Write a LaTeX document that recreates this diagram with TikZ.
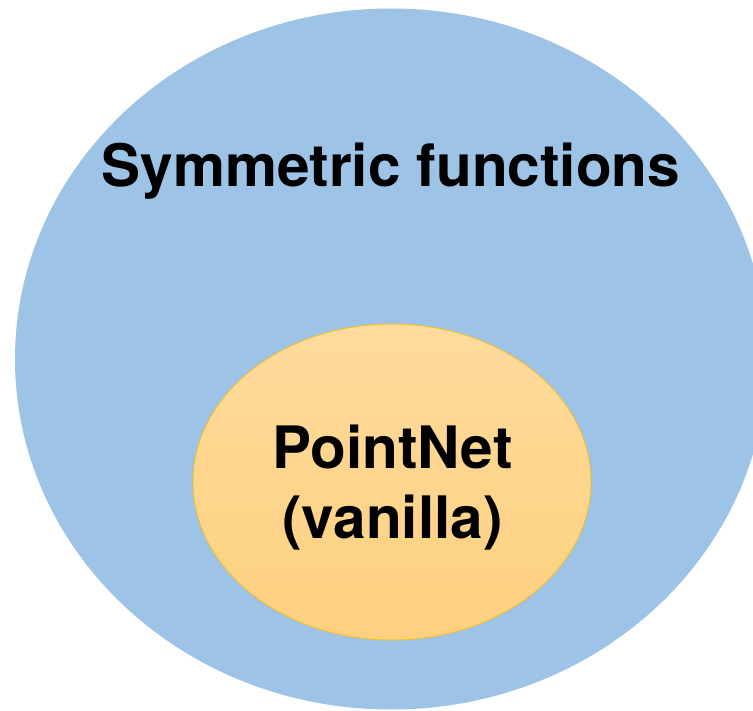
\documentclass[tikz,border=0pt]{standalone}
\usepackage{fontspec}
\setmainfont{TeX Gyre Heros}
\usetikzlibrary{shapes.geometric}
\definecolor{setblue}{HTML}{9DC3E6}
\definecolor{goldtop}{HTML}{FEDB9D}
\definecolor{goldbot}{HTML}{FDD07E}
\definecolor{goldline}{HTML}{F3C12A}
\tikzset{
  setlabel/.style={anchor=base, inner sep=0pt, font=\fontsize{58.5}{70}\selectfont\bfseries, text=black},
}
\begin{document}
\begin{tikzpicture}[x=1pt,y=-1pt]
\useasboundingbox (0,0) rectangle (753,711);
\clip (0,0) rectangle (753,711);
\node (outer) [ellipse, fill=setblue, draw=none, inner sep=0pt, minimum width=752pt, minimum height=701pt] at (391,359) {};
\node (inner) [ellipse, top color=goldtop, bottom color=goldbot, draw=goldline, line width=0.9pt, inner sep=0pt, minimum width=398pt, minimum height=316pt] at (392,482) {};
\node (sym) [setlabel] at (391,187) {Symmetric functions};
\node (pn) [setlabel] at (392.5,468) {PointNet};
\node (van) [setlabel] at (392.5,538) {(vanilla)};
\end{tikzpicture}
\end{document}
